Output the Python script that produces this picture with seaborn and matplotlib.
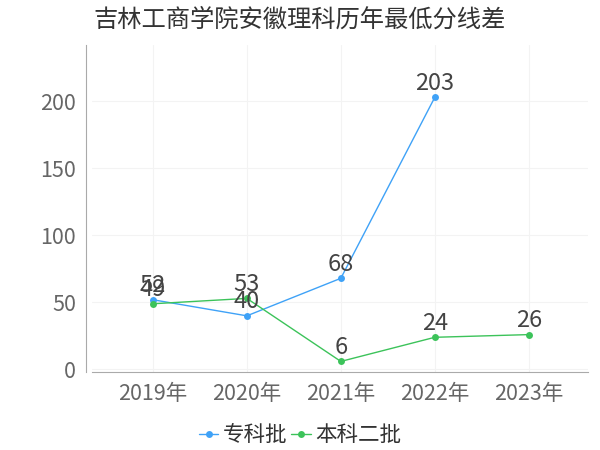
import numpy as np
import pandas as pd
import matplotlib
matplotlib.use("Agg")
import matplotlib.pyplot as plt
import seaborn as sns

# data
years = ["2019年", "2020年", "2021年", "2022年", "2023年"]
zhuanke = [52, 40, 68, 203, np.nan]
benke2 = [49, 53, 6, 24, 26]
series_names = ["专科批", "本科二批"]
colors = ["#3fa2f7", "#3cc35a"]

df = pd.DataFrame({
    "idx": list(range(len(years))) * 2,
    "value": zhuanke + benke2,
    "series": [series_names[0]] * len(years) + [series_names[1]] * len(years),
})

sns.set_style("white")
plt.rcParams["font.family"] = ["Noto Sans CJK SC", "DejaVu Sans"]

fig = plt.figure(figsize=(6, 4.5), dpi=100)
ax = fig.add_axes([0.153, 0.173, 0.827, 0.727])

sns.lineplot(data=df, x="idx", y="value", hue="series", palette=colors,
             marker="o", markersize=5, markeredgewidth=0, linewidth=1,
             ax=ax, legend=False)

# value labels
for vals, c in zip([zhuanke, benke2], colors):
    for i, v in enumerate(vals):
        if not np.isnan(v):
            ax.text(i, v + 2, f"{int(v)}", ha="center", va="bottom",
                    fontsize=17, color="#444444")

ax.set_xlim(-0.65, 4.63)
ax.set_ylim(-2, 242)
ax.set_xticks(range(len(years)))
ax.set_xticklabels(years)
ax.set_yticks([0, 50, 100, 150, 200])
ax.tick_params(axis="both", labelsize=15.5, length=4,
               width=0.8, direction="out", colors="#999999",
               labelcolor="#666666")
ax.set_xlabel("")
ax.set_ylabel("")
ax.grid(True, color="#f3f3f3", linewidth=0.8)

sns.despine(ax=ax, top=True, right=True)
ax.spines["left"].set_position(("outward", 4))
for s in ["left", "bottom"]:
    ax.spines[s].set_color("#aaaaaa")
    ax.spines[s].set_linewidth(0.8)

fig.suptitle("吉林工商学院安徽理科历年最低分线差", x=0.5, y=0.985,
             fontsize=17.5, color="#333333")

handles = [plt.Line2D([], [], color=c, marker="o", markersize=5,
                      markeredgewidth=0, linewidth=1) for c in colors]
fig.legend(handles, series_names, loc="lower center", ncol=2,
           bbox_to_anchor=(0.5, -0.035), frameon=False, fontsize=15.5,
           handlelength=0.9, handletextpad=0.2, columnspacing=0.2,
           labelcolor="#333333")

fig.savefig("out.png", dpi=100)
